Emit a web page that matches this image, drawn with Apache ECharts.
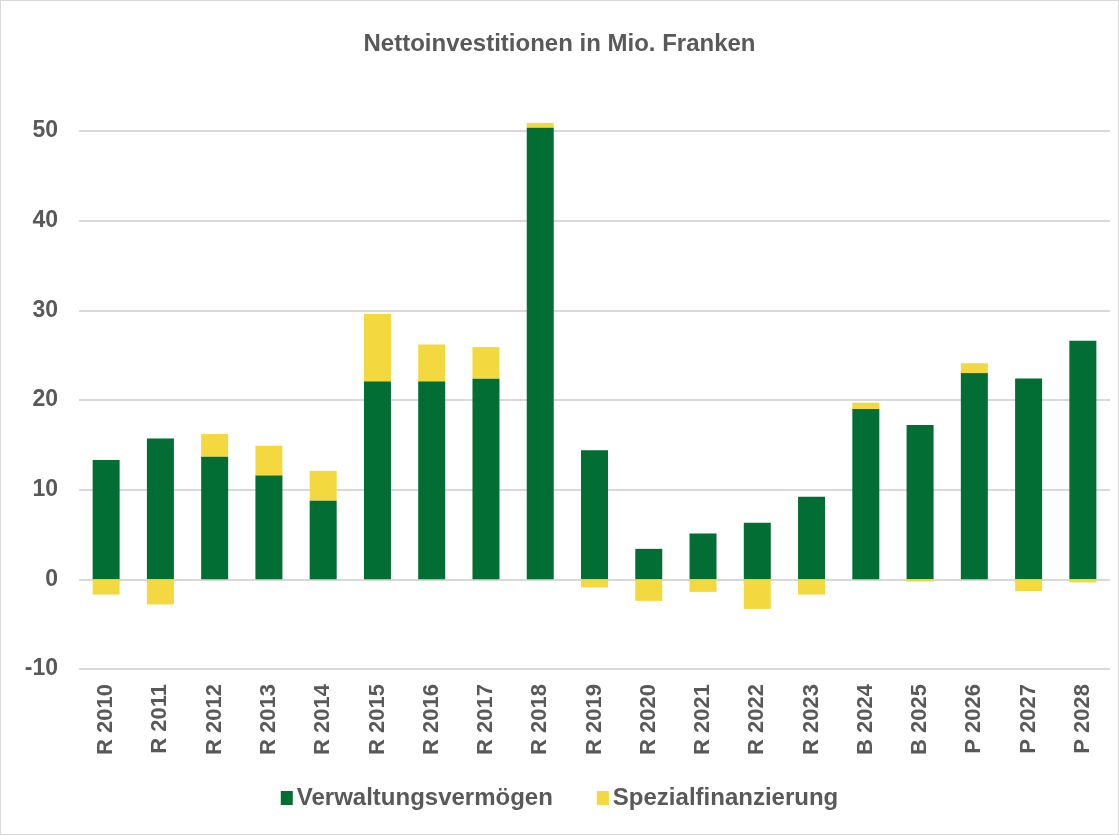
<!DOCTYPE html>
<html>
<head>
<meta charset="utf-8">
<script src="https://cdn.jsdelivr.net/npm/echarts@6/dist/echarts.min.js"></script>
<style>
	html, body { margin: 0; padding: 0; background: #fff; }
	#chart { width: 1117px; height: 833px; border: 1px solid #d9d9d9; }
</style>
</head>
<body>
<div id="chart"></div>
<script>
// Jahre (R = Rechnung, B = Budget, P = Plan)
const categories = ['R 2010', 'R 2011', 'R 2012', 'R 2013', 'R 2014', 'R 2015', 'R 2016', 'R 2017', 'R 2018', 'R 2019',
	'R 2020', 'R 2021', 'R 2022', 'R 2023', 'B 2024', 'B 2025', 'P 2026', 'P 2027', 'P 2028'];
const verwaltung = [13.3, 15.7, 13.7, 11.6, 8.8, 22.1, 22.1, 22.4, 50.4, 14.4,
	3.4, 5.1, 6.3, 9.2, 19.0, 17.2, 23.0, 22.4, 26.6];
const spezial = [-1.7, -2.8, 2.5, 3.3, 3.3, 7.5, 4.1, 3.5, 0.5, -0.9,
	-2.4, -1.4, -3.3, -1.7, 0.7, -0.25, 1.1, -1.3, -0.35];
const yTicks = [-10, 0, 10, 20, 30, 40, 50];

const textColor = '#595959';
const font = '"Liberation Sans", Arial, sans-serif';

const chart = echarts.init(document.getElementById('chart'));

const option = {
	color: ['#036e33', '#f4d83f'],
	textStyle: { fontFamily: font },
	title: {
		text: 'Nettoinvestitionen in Mio. Franken',
		left: 'center',
		top: 26,
		textStyle: { color: textColor, fontSize: 24, fontWeight: 'bold', fontFamily: font }
	},
	legend: {
		bottom: 19,
		left: 'center',
		itemWidth: 12,
		itemHeight: 14,
		itemGap: 44,
		icon: 'rect',
		textStyle: { color: textColor, fontSize: 24, fontWeight: 'bold', fontFamily: font, padding: [0, 0, 0, -1] },
		data: ['Verwaltungsvermögen', 'Spezialfinanzierung']
	},
	grid: {
		left: 78,
		right: 8,
		top: 130,
		bottom: 165,
		containLabel: false
	},
	xAxis: {
		type: 'category',
		data: categories,
		axisTick: { show: false },
		axisLine: { show: false },
		axisLabel: {
			rotate: 90,
			margin: 15,
			color: textColor,
			fontSize: 22,
			fontWeight: 'bold',
			fontFamily: font
		}
	},
	yAxis: {
		type: 'value',
		min: yTicks[0],
		max: yTicks[yTicks.length - 1],
		interval: 10,
		axisLine: { show: false },
		axisTick: { show: false },
		axisLabel: {
			margin: 21,
			color: textColor,
			fontSize: 23,
			fontWeight: 'bold',
			fontFamily: font
		},
		splitLine: { lineStyle: { color: '#d9d9d9', width: 2 } }
	},
	series: [
		{
			name: 'Verwaltungsvermögen',
			type: 'bar',
			stack: 'total',
			barWidth: 27,
			clip: false,
			data: verwaltung
		},
		{
			name: 'Spezialfinanzierung',
			type: 'bar',
			stack: 'total',
			barWidth: 27,
			clip: false,
			data: spezial
		}
	]
};

chart.setOption(option);
</script>
</body>
</html>
